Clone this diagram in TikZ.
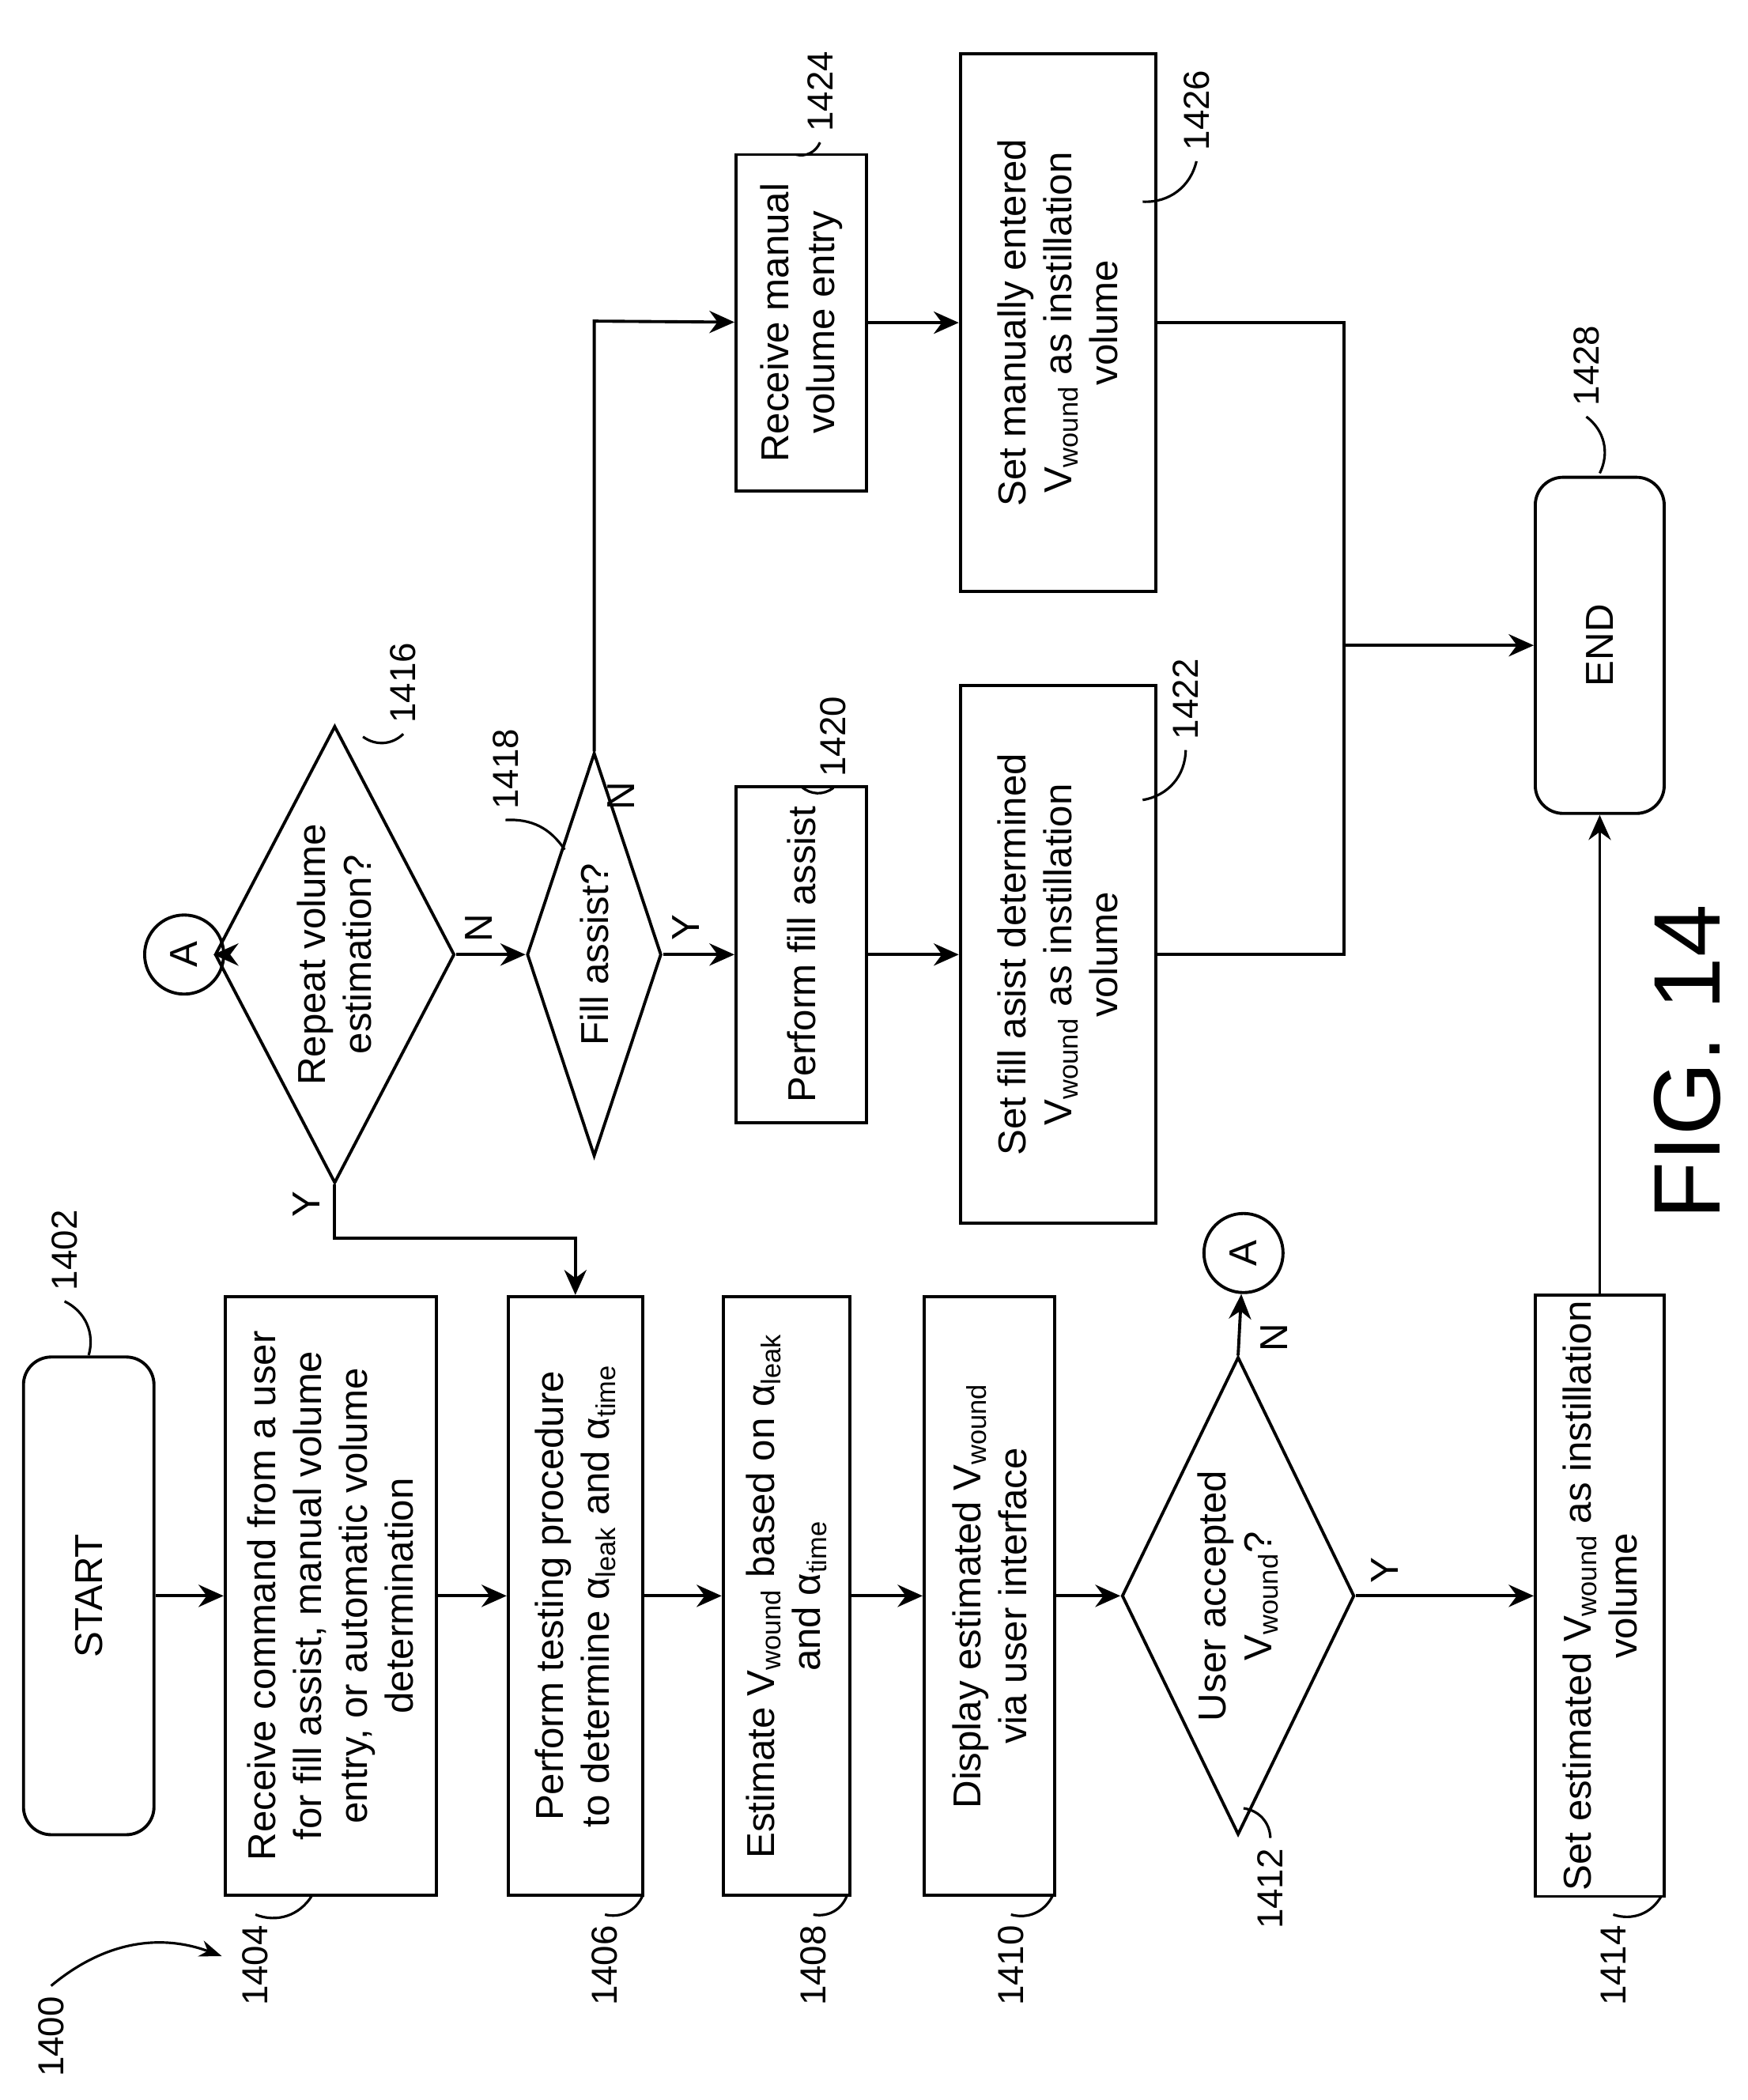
\documentclass[tikz,border=0pt]{standalone}
\usepackage{fontspec}
\setmainfont{Liberation Sans}
\usetikzlibrary{shapes.geometric,arrows.meta}

\begin{document}
\begin{tikzpicture}[x=0.017cm,y=-0.017cm,line width=1.1pt,
    font=\fontsize{14}{16.5}\selectfont]
    \tikzstyle{every node}=[rotate=90]
    \tikzstyle{flow}=[-{Stealth[length=9pt,width=8pt]}]
    \tikzstyle{box}=[draw,rectangle,align=center,inner sep=2pt]
    \tikzstyle{term}=[draw,rounded corners=10pt,align=center]
    \tikzstyle{decision}=[draw,diamond,align=center,inner sep=0pt]
    \tikzstyle{conn}=[draw,circle,minimum size=1.0cm,inner sep=0pt]
    \tikzstyle{ref}=[font=\fontsize{13}{15}\selectfont]
    \tikzstyle{lead}=[line width=0.9pt]
    \useasboundingbox (0,0) rectangle (1300,1562);

    % Left column
    \node[term,minimum width=6.04cm,minimum height=1.65cm] (n1402) at (66,1187) {START};
    \node[box,minimum width=7.57cm,minimum height=2.67cm] (n1404) at (246,1187)
        {Receive command from a user\\for fill assist, manual volume\\entry, or automatic volume\\determination};
    \node[box,minimum width=7.57cm,minimum height=1.7cm] (n1406) at (428,1187)
        {Perform testing procedure\\to determine α\textsubscript{leak} and α\textsubscript{time}};
    \node[box,minimum width=7.57cm,minimum height=1.6cm] (n1408) at (585,1187)
        {Estimate V\textsubscript{wound} based on α\textsubscript{leak}\\and α\textsubscript{time}};
    \node[box,minimum width=7.57cm,minimum height=1.65cm] (n1410) at (736,1187)
        {Display estimated V\textsubscript{wound}\\via user interface};
    \node[decision,minimum width=6.04cm,minimum height=2.94cm,aspect=2] (n1412) at (921,1187)
        {User accepted\\V\textsubscript{wound}?};
    \node[box,minimum width=7.57cm,minimum height=1.63cm] (n1414) at (1190,1187)
        {Set estimated V\textsubscript{wound} as instillation\\volume};
    \node[conn] (ca1) at (925,932) {A};

    % Upper part
    \node[conn] (ca2) at (137,710) {A};
    \node[decision,minimum width=5.78cm,minimum height=3.03cm,aspect=2] (n1416) at (249,710)
        {Repeat volume\\estimation?};
    \node[decision,minimum width=5.1cm,minimum height=1.7cm,aspect=3] (n1418) at (442,710)
        {Fill assist?};
    \node[box,minimum width=4.25cm,minimum height=1.65cm] (n1420) at (596,710) {Perform fill assist};
    \node[box,minimum width=4.25cm,minimum height=1.65cm] (n1424) at (596,240)
        {Receive manual\\volume entry};
    \node[box,minimum width=6.8cm,minimum height=2.47cm] (n1422) at (787,710)
        {Set fill asist determined\\V\textsubscript{wound} as instillation\\volume};
    \node[box,minimum width=6.8cm,minimum height=2.47cm] (n1426) at (787,240)
        {Set manually entered\\V\textsubscript{wound} as instillation\\volume};
    \node[term,minimum width=4.25cm,minimum height=1.63cm] (n1428) at (1190,480) {END};
    \coordinate (join) at (1000,480);

    % Connections
    \draw[flow] (n1402) -- (n1404);
    \draw[flow] (n1404) -- (n1406);
    \draw[flow] (n1406) -- (n1408);
    \draw[flow] (n1408) -- (n1410);
    \draw[flow] (n1410) -- (n1412);
    \draw[flow] (n1412.south) -- (n1414);
    \draw[flow] (n1412.east) -- (ca1);
    \draw[flow] (n1414) -- (n1428);
    \draw[flow] (ca2) -- (n1416.north);
    \draw[flow] (n1416.west) -- ++(0,40) -| (n1406.east);
    \draw[flow] (n1416.south) -- (n1418.north);
    \draw[flow] (n1418.south) -- (n1420);
    \draw[flow] (n1418.east) -- ++(0,-320) -- (n1424);
    \draw[flow] (n1420) -- (n1422);
    \draw[flow] (n1424) -- (n1426);
    \draw (n1422) -| (join);
    \draw (n1426) -| (join);
    \draw[flow] (join) -- (n1428);

    % Branch labels
    \node (y1412) at (1030,1168) {Y};
    \node (x1412) at (948,995) {N};
    \node (y1416) at (228,896) {Y};
    \node (x1416) at (356,690) {N};
    \node (y1418) at (510,690) {Y};
    \node (x1418) at (462,592) {N};

    % Reference numerals
    \node[ref] (l1402) at (48,930) {1402};
    \draw[lead] (l1402.west) to[bend left=40] (66,1008);
    \node[ref] (l1404) at (190,1462) {1404};
    \draw[lead] (l1404.east) to[bend right=40] (232,1410);
    \node[ref] (l1406) at (450,1462) {1406};
    \draw[lead] (l1406.east) to[bend right=40] (478,1410);
    \node[ref] (l1408) at (605,1462) {1408};
    \draw[lead] (l1408.east) to[bend right=40] (630,1410);
    \node[ref] (l1410) at (752,1462) {1410};
    \draw[lead] (l1410.east) to[bend right=40] (783,1410);
    \node[ref] (l1412) at (945,1405) {1412};
    \draw[lead] (l1412.east) to[bend right=40] (925,1345);
    \node[ref] (l1414) at (1200,1462) {1414};
    \draw[lead] (l1414.east) to[bend right=40] (1236,1410);
    \node[ref] (l1416) at (300,508) {1416};
    \draw[lead] (l1416.west) to[bend left=40] (270,548);
    \node[ref] (l1418) at (376,572) {1418};
    \draw[lead] (l1418.west) to[bend left=30] (420,632);
    \node[ref] (l1420) at (620,548) {1420};
    \draw[lead] (l1420.west) to[bend left=40] (596,585);
    \node[ref] (l1424) at (610,68) {1424};
    \draw[lead] (l1424.west) to[bend left=40] (592,115);
    \node[ref] (l1422) at (882,520) {1422};
    \draw[lead] (l1422.west) to[bend left=40] (850,595);
    \node[ref] (l1426) at (890,82) {1426};
    \draw[lead] (l1426.west) to[bend left=40] (850,150);
    \node[ref] (l1428) at (1180,272) {1428};
    \draw[lead] (l1428.west) to[bend left=40] (1190,352);
    \node[ref] (l1400) at (38,1515) {1400};
    \draw[lead,-{Stealth[length=8pt]}] (l1400.east) to[bend left=30] (165,1455);

    \node[font=\fontsize{34}{36}\selectfont] (fig) at (1255,790) {FIG. 14};
\end{tikzpicture}
\end{document}
